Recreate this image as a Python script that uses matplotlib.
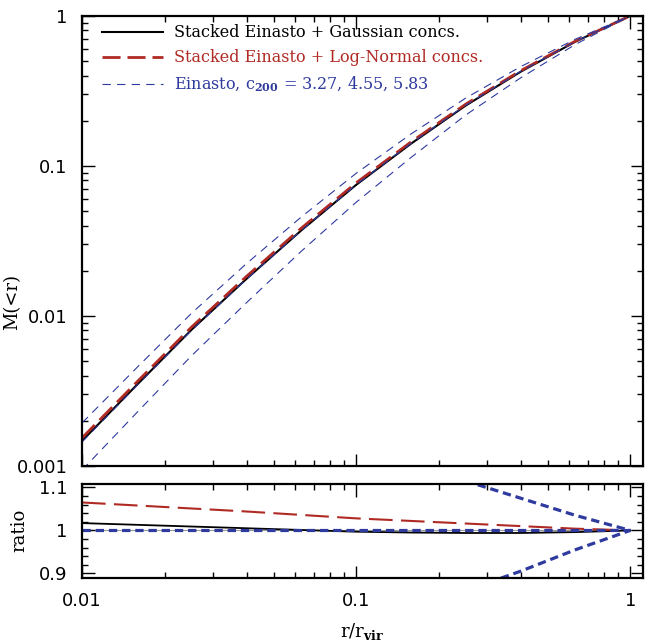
import numpy as np
import matplotlib.pyplot as plt
from matplotlib.ticker import LogLocator, FixedLocator, MultipleLocator, FuncFormatter, NullFormatter

plt.rcParams['lines.scale_dashes'] = False
plt.rcParams['mathtext.fontset'] = 'dejavuserif'

# radius in units of r_vir
r = [0.01, 0.01585, 0.02512, 0.03981, 0.0631, 0.1, 0.1585, 0.2512, 0.3981, 0.631, 1.0]

# cumulative mass of the c200 = 4.55 Einasto profile, normalised at r_vir
m_ein = [0.001445, 0.003428, 0.008035, 0.01758, 0.03715, 0.07499,
         0.1413, 0.2541, 0.4266, 0.6761, 1.0]

# everything below is relative to the c200 = 4.55 profile
ratio_gauss = [1.017, 1.013, 1.009, 1.005, 1.001, 0.997, 0.995, 0.994, 0.994, 0.996, 1.0]
ratio_lognorm = [1.065, 1.058, 1.051, 1.044, 1.036, 1.028, 1.022, 1.016, 1.010, 1.004, 1.0]
ratio_c_lo = [0.65, 0.662, 0.677, 0.697, 0.727, 0.763, 0.805, 0.86, 0.905, 0.955, 1.0]
ratio_c_mid = [1.0, 1.0, 1.0, 1.0, 1.0, 1.0, 1.0, 1.0, 1.0, 1.0, 1.0]
ratio_c_hi = [1.34, 1.32, 1.30, 1.27, 1.23, 1.19, 1.155, 1.115, 1.075, 1.035, 1.0]
conc = [3.27, 4.55, 5.83]

red = '#b02a24'
blue = '#2e3a9e'
tick_font = 'DejaVu Sans'
label_font = 'DejaVu Serif'

r = np.array(r)
m_ein = np.array(m_ein)

fig = plt.figure(figsize=(6.51, 6.43), dpi=100)
ax1 = fig.add_axes([0.126, 0.2753, 0.862, 0.700])
ax2 = fig.add_axes([0.126, 0.1016, 0.862, 0.1457])


def style_axes(ax):
    for s in ax.spines.values():
        s.set_linewidth(1.6)
    ax.tick_params(which='both', direction='in', top=True, right=True, width=1.0)
    ax.tick_params(which='major', length=9)
    ax.tick_params(which='minor', length=4.5)
    ax.tick_params(axis='x', pad=10)
    ax.tick_params(axis='y', pad=10.5)
    for lab in ax.get_xticklabels() + ax.get_yticklabels():
        lab.set_fontfamily(tick_font)
        lab.set_fontsize(13)


fmt = FuncFormatter(lambda v, p: '%g' % v)

# top panel: cumulative mass profiles
ax1.plot(r, m_ein * np.array(ratio_gauss), color='black', lw=1.5,
         label='Stacked Einasto + Gaussian concs.')
ax1.plot(r, m_ein * np.array(ratio_lognorm), color=red, lw=2.0, dashes=(13, 5),
         label='Stacked Einasto + Log-Normal concs.')
labels_c = 'Einasto, c$_{\\mathbf{200}}$ = ' + ', '.join('%.2f' % c for c in conc)
for i, rc in enumerate([ratio_c_lo, ratio_c_mid, ratio_c_hi]):
    ax1.plot(r, m_ein * np.array(rc), color=blue, lw=0.8, dashes=(6, 4.5),
             label=labels_c if i == 0 else None)

ax1.set_xscale('log')
ax1.set_yscale('log')
ax1.set_xlim(0.01, 1.115)
ax1.set_ylim(0.001, 1)
ax1.xaxis.set_major_locator(LogLocator(base=10))
ax1.xaxis.set_minor_locator(LogLocator(base=10, subs=np.arange(2, 10)))
ax1.xaxis.set_major_formatter(NullFormatter())
ax1.xaxis.set_minor_formatter(NullFormatter())
ax1.yaxis.set_major_locator(LogLocator(base=10))
ax1.yaxis.set_minor_locator(LogLocator(base=10, subs=np.arange(2, 10)))
ax1.yaxis.set_major_formatter(fmt)
ax1.yaxis.set_minor_formatter(NullFormatter())
style_axes(ax1)
ax1.set_ylabel('M(<r)', fontfamily=label_font, fontsize=13)
ax1.yaxis.set_label_coords(-0.108, 0.365)

leg = ax1.legend(loc='upper left', bbox_to_anchor=(0.036, 0.981), frameon=False,
                 borderpad=0, borderaxespad=0, handlelength=3.8, handletextpad=0.7,
                 labelspacing=0.5, labelcolor=['black', red, blue],
                 prop={'family': label_font, 'size': 11.5})

# bottom panel: ratios
ax2.axhline(1.0, color='#999999', lw=0.8, zorder=0)
ax2.plot(r, ratio_gauss, color='black', lw=1.3)
ax2.plot(r, ratio_lognorm, color=red, lw=1.5, dashes=(17, 6))
for rc in [ratio_c_lo, ratio_c_mid, ratio_c_hi]:
    ax2.plot(r, rc, color=blue, lw=2.3, dashes=(6, 3.5))

ax2.set_xscale('log')
ax2.set_xlim(0.01, 1.115)
ax2.set_ylim(0.89, 1.108)
ax2.xaxis.set_major_locator(LogLocator(base=10))
ax2.xaxis.set_minor_locator(LogLocator(base=10, subs=np.arange(2, 10)))
ax2.xaxis.set_major_formatter(fmt)
ax2.xaxis.set_minor_formatter(NullFormatter())
ax2.yaxis.set_major_locator(FixedLocator([0.9, 1.0, 1.1]))
ax2.yaxis.set_minor_locator(MultipleLocator(0.02))
ax2.yaxis.set_major_formatter(fmt)
style_axes(ax2)
ax2.set_ylabel('ratio', fontfamily=label_font, fontsize=13)
ax2.yaxis.set_label_coords(-0.095, 0.51)
ax2.set_xlabel('r/r$_{\\mathbf{vir}}$', fontfamily=label_font, fontsize=13)
ax2.xaxis.set_label_coords(0.5, -0.46)

fig.savefig('out.png', dpi=100)
